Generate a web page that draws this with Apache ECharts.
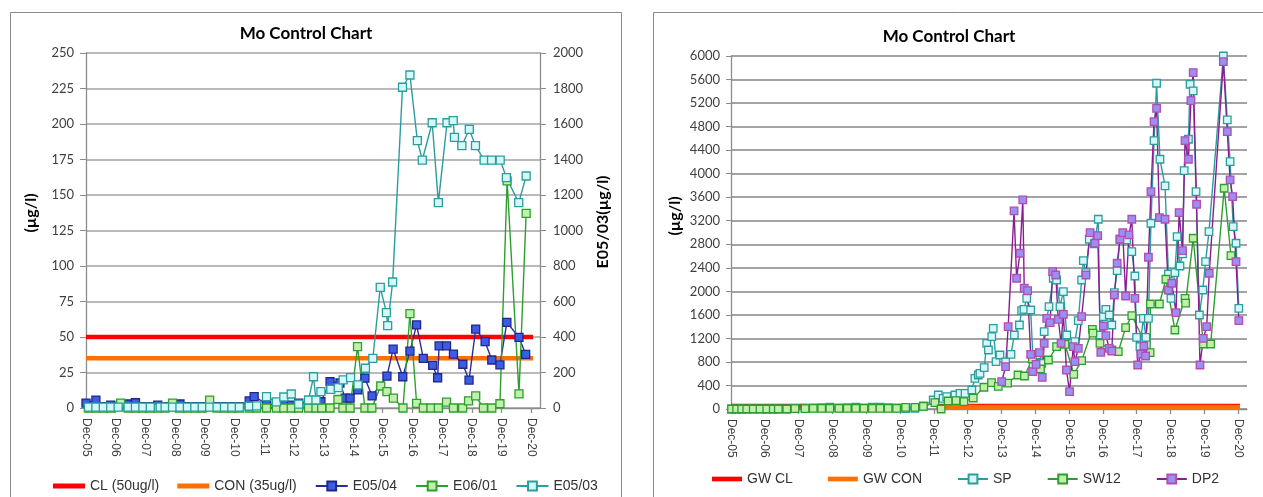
<!DOCTYPE html>
<html><head><meta charset="utf-8">
<script src="https://cdn.jsdelivr.net/npm/echarts@6/dist/echarts.min.js"></script>
<style>html,body{margin:0;padding:0;background:#fff;}#c{width:1263px;height:497px;}</style>
</head><body><div id="c"></div>
<script>
// ---- axis ticks (months since Dec-05) ----
const tickMonths = [0,12,24,36,48,60,72,84,96,108,120,132,144,156,168,180];
const tickLabels = ['Dec-05','Dec-06','Dec-07','Dec-08','Dec-09','Dec-10','Dec-11','Dec-12','Dec-13','Dec-14','Dec-15','Dec-16','Dec-17','Dec-18','Dec-19','Dec-20'];

// ---- left chart ----
const clM = [0, 180.8];           const clV = [50, 50];
const conM = [0, 180.8];          const conV = [35, 35];
const e0504M = [0,4,7,10,13,17,20,23,26,29,32,35,38,41,44,47,50,53,56,59,62,66,68,73,77,80,83,86,90,95,98.7,102.7,104.8,106.8,109.9,112.8,115.7,121.7,124.2,128.1,131,133.7,136.4,140.2,142.2,142.8,145.8,148.6,152.4,154.9,157.6,161.4,164.1,167.4,170.2,175.1,177.8];
const e0504V = [3.5,5.6,1,2,1,2.8,3.7,1,1,2,1,1,2.8,1,1,1,1,1,1,1,1,5,8,3,2,2,2,3.5,3.5,4.4,18.5,17.6,7,7,12.7,21,8.5,22.5,41.5,22,40,58.5,35,30,21.3,43.7,43.7,38,30.8,19.7,55.6,46.7,33.8,30.3,60.3,49.8,37.8];
const e0601M = [1,4,7,10,14,17,20,23,26,29,32,35,38,41,44,47,50,53,56,59,62,66,69,73,77,80,83,86,90,93,95.3,98.7,101.9,103.9,106.8,109.8,112.8,115.6,119.2,121.7,124.3,128.2,131,133.7,136.4,139.5,142.5,145.8,148.6,152.3,154.7,157.6,160.7,164.1,167.4,170.3,175.1,178];
const e0601V = [0,0,0,0,3.5,0,0,0,0,0,0,3.5,0,0,0,0,5.6,0,0,0,0,0,0,0,0,0,0,0,0,0,0,0,6,0,0,43.2,0,0,15.5,11.5,7,0,66.5,3.3,0,0,0,4.2,0,0,5,8.5,0,0,3,160,10,137];
const e0503M = [1,4,7,10,13,17,20,23,26,30,32,35,38,41,44,47,50,53,56,59,62,66,69,73,77,80,83,86,90,92,93,95,99,102,104,107,110,113,116,119,121.5,122,124,128,131,134,136,140,142.5,146,148.5,149,152,155,157.5,161,164,167.5,170,175,178];
const e0503V = [5,5,5,5,5,5,5,5,5,5,5,5,5,5,5,5,5,5,5,5,5,10,12,64,35,62,79,22,45,176,45,92,105,115,158,171,130,224,280,680,537,464,710,1807,1876,1506,1397,1607,1157,1607,1619,1525,1478,1570,1478,1397,1397,1397,1298,1157,1307];

// ---- right chart ----
const gwclM = [0, 27, 28, 73, 180.7];   const gwclV = [50, 50, null, 50, 50];
const gwconM = [73, 180.7];             const gwconV = [35, 35];
const spM = [0.2,2,3.8,5.6,7.9,10.3,12.7,15,16.8,19.8,22.7,26.3,29.2,32.2,35.1,38.3,41.3,44.3,47.2,50.2,52.9,55.8,58.8,62,65.3,68.3,
 71.8,73.6,75.3,76.6,79.5,81.3,83.1,85.5,86.6,87.8,88.4,89.9,90.8,91.4,92.6,93.1,94.1,95.5,97.5,99.4,100.6,102.4,103.2,104.0,105.0,106.4,107.3,108.5,110.3,111.2,112.9,114.4,115.6,116.8,118.0,119.2,121.0,122.1,123.3,124.5,125.1,126.0,127.2,129.0,130.4,131.0,132.2,133.1,134.3,135.2,136.1,137.1,138.1,140.5,142.3,143.4,144.0,145.2,146.4,147.3,148.2,149.1,150.2,151.1,152.3,154.1,155.3,156.2,157.6,158.4,159.4,160.3,160.9,162.4,163.0,164.1,165.1,166.3,167.5,168.5,169.7,174.8,176.2,177.2,178.3,179.3,180.3];
const spV = [0,0,0,0,0,0,0,0,0,0,10,15,20,25,30,20,25,30,20,30,30,25,20,5,12,51,
 153,238,180,209,238,266,266,323,522,578,607,702,1117,1003,1229,1372,804,918,800,930,1258,1428,1671,1694,1882,1683,748,918,777,1314,1739,2222,2193,1739,1994,1258,1117,1144,1501,2193,2521,2317,2885,2805,3225,1258,1569,1694,1598,1428,1977,2351,2885,2873,2674,2261,1219,1059,1542,1219,1542,3157,4561,5537,4245,3791,2295,1882,2317,2929,2431,2635,4051,4585,5520,5406,3694,1598,2023,2504,3014,6000,4913,4204,3099,2817,1712];
const sw12M = [0.2,2,3.8,5.6,7.9,10.3,12.7,15,16.8,19.8,22.7,26.3,29.2,32.2,35.1,38.3,41.3,44.3,47.2,50.2,52.9,55.8,58.8,62,65.3,68.3,
 72.4,74.6,77.1,79.9,82.7,86.0,89.8,92.5,94.9,98.2,101.9,104.2,107.0,109.9,112.7,115.6,118.6,121.7,124.5,128.3,128.5,131.0,135.2,137.5,140.1,142.3,148.8,148.9,152.1,154.4,157.6,161.2,161.4,164.1,167.7,170.3,175.1,177.5];
const sw12V = [0,0,0,0,0,0,0,0,0,0,5,8,10,10,12,12,12,12,12,12,12,12,12,29,29,45,
 107,0,136,141,124,187,370,447,385,440,578,561,850,680,833,1059,1100,590,821,1355,1290,1117,1003,974,1383,1586,957,1785,1785,2205,1343,1882,1800,2902,1105,1105,3752,2606];
const dp2M = [96.1,97.5,98.4,100.5,101.4,102.6,103.6,104.1,105.3,106.4,107.1,108.3,109.5,110.5,111.2,112.1,113.3,114.2,115.3,116.2,117.2,118.0,119.1,120.2,121.5,122.1,123.3,124.5,126.0,127.5,129.2,130.2,131.3,132.2,133.1,134.3,135.2,136.1,137.1,138.1,139.1,140.1,141.3,142.3,143.4,144.4,145.6,146.6,147.2,148.2,149.1,150.2,151.1,152.1,154.1,155.3,156.5,158.0,159.1,160.3,161.2,162.4,163.3,164.1,165.3,166.5,167.7,168.9,169.8,174.8,176.2,177.2,178.1,179.3,180.3];
const dp2V = [464,719,1399,3366,2222,2647,3553,2052,2011,930,634,760,957,539,1117,1542,1467,2334,2278,1525,1117,1610,663,294,1059,804,1032,1569,2278,2998,2817,2946,964,1411,1246,1032,986,1938,2477,2885,2998,1921,2958,3225,1882,748,935,1071,901,2579,3694,4884,5111,3252,3225,2023,2137,1637,3337,2691,4561,4245,5241,5717,3480,748,1202,1399,2307,5904,4714,3893,3609,2504,1501];

function zip(xs, ys){ return xs.map((x,i)=>[x, ys[i]]); }

const GRAY_GRID = '#a3a3a3', AXIS = '#8c8c8c', TXT = '#404040';
const yLab = {fontFamily:'Lato', fontSize:13, color:TXT, formatter: v => String(v)};
const xLab = {fontFamily:'Liberation Sans', fontSize:12, color:TXT, rotate:-90, margin:10,
  customValues: tickMonths, interval: 0, formatter: v => { const i = tickMonths.indexOf(Math.round(v)); return i>=0 ? tickLabels[i] : ''; }};

function xAxisCfg(grid, max){
  return {type:'value', gridIndex:grid, min:0, max:max, interval:12,
    axisLine:{show:true, lineStyle:{color:AXIS, width:1.3}},
    axisTick:{show:true, length:5, customValues: tickMonths, lineStyle:{color:AXIS, width:1.3}},
    axisLabel: xLab, splitLine:{show:false}};
}
function lineSeries(name, xi, yi, xs, ys, size, line, fill, border){
  return {name, type:'line', xAxisIndex:xi, yAxisIndex:yi, data: zip(xs, ys),
    symbol:'rect', symbolSize:size, showAllSymbol:true, clip:false,
    lineStyle:{color:line, width:1.4},
    itemStyle:{color:fill, borderColor:border, borderWidth:1.3},
    emphasis:{disabled:true}};
}
function refLine(name, xi, yi, xs, ys, color){
  return {name, type:'line', xAxisIndex:xi, yAxisIndex:yi, data: zip(xs, ys), symbol:'none',
    lineStyle:{color, width:4.5}, itemStyle:{color}, emphasis:{disabled:true}};
}

const TEAL = ['#2a9e9e','#d6f8f8','#2a9e9e'];
const GREEN = ['#2e9f2e','#c0f0ab','#2e9f2e'];
const BLUE = ['#2c2c96','#3b5de3','#22268a'];
const PURP = ['#8c1c92','#9b8ff0','#b34cb5'];
const BAR = 'path://M0,0H32V5H0Z';

const option = {
  animation:false,
  textStyle:{fontFamily:'Liberation Sans'},
  title:[
    {text:'Mo Control Chart', left:301, top:20, textAlign:'center', textStyle:{fontFamily:'Lato', fontWeight:'bold', fontSize:17, color:'#000'}},
    {text:'Mo Control Chart', left:944, top:23, textAlign:'center', textStyle:{fontFamily:'Lato', fontWeight:'bold', fontSize:17, color:'#000'}}
  ],
  legend:[
    {data:[{name:'CL (50ug/l)', icon:BAR},{name:'CON (35ug/l)', icon:BAR},'E05/04','E06/01','E05/03'], left:48, top:474, itemGap:18, itemWidth:32, itemHeight:11,
     textStyle:{fontFamily:'Liberation Sans', fontSize:14, color:'#333'}, selectedMode:false},
    {data:[{name:'GW CL', icon:BAR},{name:'GW CON', icon:BAR},'SP','SW12','DP2'], left:707, top:467, itemGap:35, itemWidth:30, itemHeight:11,
     textStyle:{fontFamily:'Liberation Sans', fontSize:14, color:'#333'}, selectedMode:false}
  ],
  grid:[
    {left:86, top:53, width:454, height:355},
    {left:731, top:56, width:516, height:353}
  ],
  xAxis:[ xAxisCfg(0, 183.6), xAxisCfg(1, 183.2) ],
  yAxis:[
    {type:'value', gridIndex:0, min:0, max:250, interval:25, position:'left',
     axisLine:{show:true, lineStyle:{color:AXIS, width:1.3}}, axisTick:{show:true, length:6, lineStyle:{color:AXIS}},
     axisLabel:Object.assign({margin:12}, yLab), splitLine:{show:true, lineStyle:{color:GRAY_GRID, width:1.6}}},
    {type:'value', gridIndex:0, min:0, max:2000, interval:200, position:'right',
     axisLine:{show:true, lineStyle:{color:AXIS, width:1.3}}, axisTick:{show:true, length:6, lineStyle:{color:AXIS}},
     axisLabel:Object.assign({margin:13}, yLab), splitLine:{show:false}},
    {type:'value', gridIndex:1, min:0, max:6000, interval:400, position:'left',
     axisLine:{show:true, lineStyle:{color:AXIS, width:1.3}}, axisTick:{show:true, length:5, lineStyle:{color:AXIS}},
     axisLabel:Object.assign({margin:11}, yLab), splitLine:{show:true, lineStyle:{color:GRAY_GRID, width:1.8}}}
  ],
  graphic:[
    {type:'rect', silent:true, z:-10, shape:{x:10.5, y:12.5, width:611, height:520}, style:{fill:'none', stroke:'#8a8a8a', lineWidth:1}},
    {type:'rect', silent:true, z:-10, shape:{x:653.5, y:12.5, width:640, height:520}, style:{fill:'none', stroke:'#8a8a8a', lineWidth:1}},
    {type:'text', x:31, y:213, rotation:Math.PI/2, style:{text:'(µg/l)', textAlign:'center', textVerticalAlign:'middle', align:'center', verticalAlign:'middle', font:'bold 16px Lato', fill:'#000'}},
    {type:'text', x:603, y:222, rotation:Math.PI/2, style:{text:'E05/03(µg/l)', textAlign:'center', textVerticalAlign:'middle', align:'center', verticalAlign:'middle', font:'bold 16px Lato', fill:'#000'}},
    {type:'text', x:675, y:216, rotation:Math.PI/2, style:{text:'(µg/l)', textAlign:'center', textVerticalAlign:'middle', align:'center', verticalAlign:'middle', font:'bold 16px Lato', fill:'#000'}}
  ],
  series:[
    refLine('CL (50ug/l)', 0, 0, clM, clV, '#ff0000'),
    refLine('CON (35ug/l)', 0, 0, conM, conV, '#ff7000'),
    lineSeries('E05/04', 0, 0, e0504M, e0504V, 8, ...BLUE),
    lineSeries('E06/01', 0, 0, e0601M, e0601V, 8, ...GREEN),
    lineSeries('E05/03', 0, 1, e0503M, e0503V, 8, ...TEAL),
    refLine('GW CL', 1, 2, gwclM, gwclV, '#ff0000'),
    refLine('GW CON', 1, 2, gwconM, gwconV, '#ff7000'),
    lineSeries('SP', 1, 2, spM, spV, 7.5, ...TEAL),
    lineSeries('SW12', 1, 2, sw12M, sw12V, 7.5, ...GREEN),
    lineSeries('DP2', 1, 2, dp2M, dp2V, 7.5, ...PURP)
  ]
};
const chart = echarts.init(document.getElementById('c'), null, {renderer:'canvas'});
chart.setOption(option);
</script>
</body></html>
